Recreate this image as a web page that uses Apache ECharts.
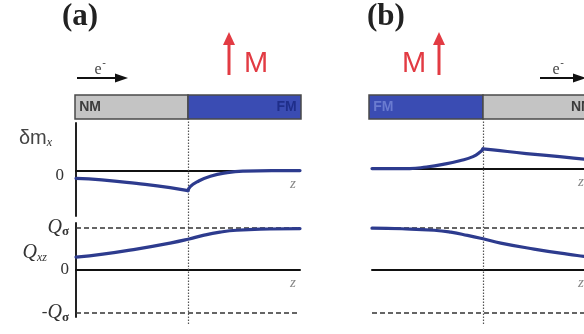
<!DOCTYPE html>
<html><head><meta charset="utf-8">
<script src="https://cdn.jsdelivr.net/npm/echarts@6/dist/echarts.min.js"></script>
<style>html,body{margin:0;padding:0;background:#fff}#c{width:584px;height:334px}</style>
</head><body><div id="c"></div>
<script>
// ---- data (z: position, interface at 0) ----
const dmA_NM = [[-1,-0.15],[-0.77,-0.18],[-0.46,-0.25],[-0.16,-0.33],[0,-0.39]];
const dmA_FM = [[0,-0.39],[0.02,-0.31],[0.08,-0.22],[0.2,-0.11],[0.35,-0.04],[0.5,-0.01],[0.75,0],[1,0]];
const dmB_FM = [[-1,0],[-0.66,0],[-0.51,0.03],[-0.36,0.08],[-0.21,0.15],[-0.09,0.23],[-0.02,0.33],[0,0.38]];
const dmB_NM = [[0,0.38],[0.09,0.36],[0.39,0.29],[0.69,0.23],[0.91,0.18],[1,0.16]];
const qA = [[-1,0.30],[-0.76,0.37],[-0.46,0.49],[-0.16,0.63],[0,0.72],[0.135,0.81],[0.285,0.885],[0.435,0.93],[0.73,0.96],[1,0.97]];
const qB = [[-1,0.98],[-0.73,0.965],[-0.44,0.93],[-0.29,0.885],[-0.14,0.81],[0,0.73],[0.16,0.63],[0.46,0.49],[0.76,0.37],[0.91,0.32],[1,0.29]];
const layersA = ['NM','FM'];
const layersB = ['FM','NM'];
const qSigmaLevels = [1,-1];
const interfaceZ = 0;
const dmTickValues = [0];
const dmTickLabels = ['0'];
const qTickValues = [-1,0,1];
const qTickLabels = ['-Qσ','0','Qσ'];
const panelTitles = ['(a)','(b)'];

// ---- styles ----
const CURVE = '#2d3b8e', RED = '#e23b43';
const layerFill = {NM:'#c4c4c4', FM:'#3a4cb3'};
const SERIF = '"Liberation Serif","DejaVu Serif",serif';
const SANS = '"Liberation Sans",Arial,sans-serif';

const chart = echarts.init(document.getElementById('c'), null, {renderer:'canvas'});

const grids = [
  {left:75, top:95, width:226, height:24},   // 0 a header
  {left:76, top:123, width:224, height:93},  // 1 a dm
  {left:76, top:223, width:224, height:94},  // 2 a Q
  {left:76, top:119, width:224, height:205}, // 3 a interface
  {left:369, top:95, width:228, height:24},  // 4 b header
  {left:372, top:121, width:222, height:93}, // 5 b dm
  {left:372, top:223, width:222, height:94}, // 6 b Q
  {left:372, top:119, width:222, height:205} // 7 b interface
].map(g => Object.assign({outerBoundsMode:'none', containLabel:false}, g));

const hidden = {show:false};
function xHidden(i){ return {gridIndex:i, type:'value', min:-1, max:1, show:false}; }
function yHidden(i){ return {gridIndex:i, type:'value', min:0, max:1, show:false}; }
function xMain(i, gap, align){
  return {gridIndex:i, type:'value', min:-1, max:1,
    axisLine:{onZero:true, lineStyle:{color:'#111', width:2}},
    axisTick:hidden, axisLabel:hidden, splitLine:hidden,
    name:'z', nameLocation:'end', nameGap:gap, nameMoveOverlap:false,
    nameTextStyle:{fontFamily:SERIF, fontStyle:'italic', fontSize:15, color:'#888',
      align:align, verticalAlign:'top', padding:[6,0,0,0]}};
}
const qRich = {
  q:{fontFamily:SERIF, fontStyle:'italic', fontSize:20, color:'#333', lineHeight:22},
  s:{fontFamily:SERIF, fontWeight:'bold', fontSize:13, color:'#333', verticalAlign:'bottom', lineHeight:12},
  n:{fontFamily:SERIF, fontSize:17, color:'#333'},
  x:{fontFamily:SERIF, fontStyle:'italic', fontSize:12, color:'#333', verticalAlign:'bottom', lineHeight:12},
  d:{fontFamily:SANS, fontSize:20, color:'#444', lineHeight:22}
};
function fmtLabel(values, labels){
  return v => {
    const i = values.indexOf(v);
    const t = i < 0 ? '' : labels[i];
    if (t.indexOf('Qσ') >= 0) return t.replace('Qσ','{q|Q}{s|σ}').replace(/^-/, '{n|-}');
    return '{n|' + t + '}';
  };
}
const yAxes = [
  yHidden(0),
  {gridIndex:1, type:'value', min:-0.88, max:0.92,
    axisLine:{show:true, onZero:false, lineStyle:{color:'#222', width:2}},
    axisTick:hidden, splitLine:hidden,
    axisLabel:{show:true, customValues:dmTickValues, margin:12, padding:[9,0,0,0],
      formatter:fmtLabel(dmTickValues, dmTickLabels), rich:qRich},
    name:'{d|δm}{x|x}', nameLocation:'end', nameGap:-15, nameMoveOverlap:false,
    nameTextStyle:{align:'right', verticalAlign:'middle', padding:[0,24,0,0], rich:qRich}},
  {gridIndex:2, type:'value', min:-1.1, max:1.1,
    axisLine:{show:true, onZero:false, lineStyle:{color:'#222', width:2}},
    axisTick:hidden, splitLine:hidden,
    axisLabel:{show:true, customValues:qTickValues, margin:7,
      formatter:fmtLabel(qTickValues, qTickLabels), rich:qRich},
    name:'{q|Q}{x|xz}', nameLocation:'end', nameGap:-30, nameMoveOverlap:false,
    nameTextStyle:{align:'right', verticalAlign:'middle', padding:[0,29,0,0], rich:qRich}},
  yHidden(3),
  yHidden(4),
  {gridIndex:5, type:'value', min:-0.88, max:0.92, axisLine:{show:false, onZero:false}, axisTick:hidden, axisLabel:hidden, splitLine:hidden},
  {gridIndex:6, type:'value', min:-1.1, max:1.1, axisLine:{show:false, onZero:false}, axisTick:hidden, axisLabel:hidden, splitLine:hidden},
  yHidden(7)
];
const xAxes = [
  xHidden(0), xMain(1,-7,'center'), xMain(2,-7,'center'), xHidden(3),
  xHidden(4), xMain(5,-16,'left'), xMain(6,-16,'left'), xHidden(7)
];

function curve(i, data){
  return {type:'line', xAxisIndex:i, yAxisIndex:i, data:data, smooth:0.5,
    symbol:'none', lineStyle:{color:CURVE, width:3.2, cap:'round', join:'round'}, z:5, silent:true};
}
function header(i, layers, fmColor){
  const mk = (name, x0, x1, pos) => [
    {name:name, xAxis:x0, itemStyle:{color:layerFill[name]},
     label:{position:pos, color: name==='FM' ? fmColor : '#3c3c3c'}},
    {xAxis:x1}];
  return {type:'line', xAxisIndex:i, yAxisIndex:i, data:[], silent:true,
    markArea:{silent:true, itemStyle:{borderColor:'#4a4a4a', borderWidth:1.5},
      label:{fontFamily:SANS, fontSize:14, fontWeight:'bold', distance:5},
      data:[mk(layers[0], -1, interfaceZ, 'insideLeft'), mk(layers[1], interfaceZ, 1, 'insideRight')]}};
}
function qLevels(i){
  return {type:'line', xAxisIndex:i, yAxisIndex:i, data:[], silent:true, z:2,
    markLine:{silent:true, symbol:['none','none'], label:{show:false},
      lineStyle:{type:[5,3], color:'#333', width:1.5},
      data:qSigmaLevels.map(v => ({yAxis:v}))}};
}
function iface(i){
  return {type:'line', xAxisIndex:i, yAxisIndex:i, data:[], silent:true, z:1,
    markLine:{silent:true, symbol:['none','none'], label:{show:false},
      lineStyle:{type:[1.5,1.5], color:'#555', width:1.2},
      data:[{xAxis:interfaceZ}]}};
}

function arrowRight(x1, x2, y){
  return [
    {type:'line', shape:{x1:x1, y1:y, x2:x2-8, y2:y}, style:{stroke:'#111', lineWidth:2}},
    {type:'polygon', shape:{points:[[x2-13,y-4.5],[x2,y],[x2-13,y+4.5]]}, style:{fill:'#111'}}
  ];
}
function arrowUp(x, y1, y2){
  return [
    {type:'line', shape:{x1:x, y1:y1, x2:x, y2:y2+10}, style:{stroke:RED, lineWidth:3}},
    {type:'polygon', shape:{points:[[x-6,y2+13],[x,y2],[x+6,y2+13]]}, style:{fill:RED}}
  ];
}
function txt(x, y, t, font, color, align){
  return {type:'text', x:x, y:y, style:{text:t, font:font, fill:color, align:align||'center', verticalAlign:'middle'}};
}

const graphic = [].concat(
  arrowRight(77, 128, 78),
  [txt(98, 70, 'e', '16px '+SERIF, '#444'), txt(104, 63, '-', '11px '+SANS, '#444')],
  arrowUp(229, 75, 32),
  [txt(244, 64, 'M', '29px '+SANS, RED, 'left')],
  arrowRight(540, 586, 78),
  [txt(556, 70, 'e', '16px '+SERIF, '#444'), txt(562, 63, '-', '11px '+SANS, '#444')],
  arrowUp(439, 75, 32),
  [txt(402, 64, 'M', '29px '+SANS, RED, 'left')]
);

chart.setOption({
  animation:false,
  backgroundColor:'#fff',
  title: panelTitles.map((t,k) => ({text:t, left: k===0 ? 62 : 367, top:1, padding:0,
    textStyle:{fontFamily:SERIF, fontWeight:'bold', fontSize:31, color:'#222'}})),
  grid:grids,
  xAxis:xAxes,
  yAxis:yAxes,
  graphic:graphic,
  series:[
    header(0, layersA, '#1f2e8a'),
    iface(3),
    qLevels(2),
    curve(1, dmA_NM), curve(1, dmA_FM),
    curve(2, qA),
    header(4, layersB, '#6a7bd0'),
    iface(7),
    qLevels(6),
    curve(5, dmB_FM), curve(5, dmB_NM),
    curve(6, qB)
  ]
});
</script></body></html>
